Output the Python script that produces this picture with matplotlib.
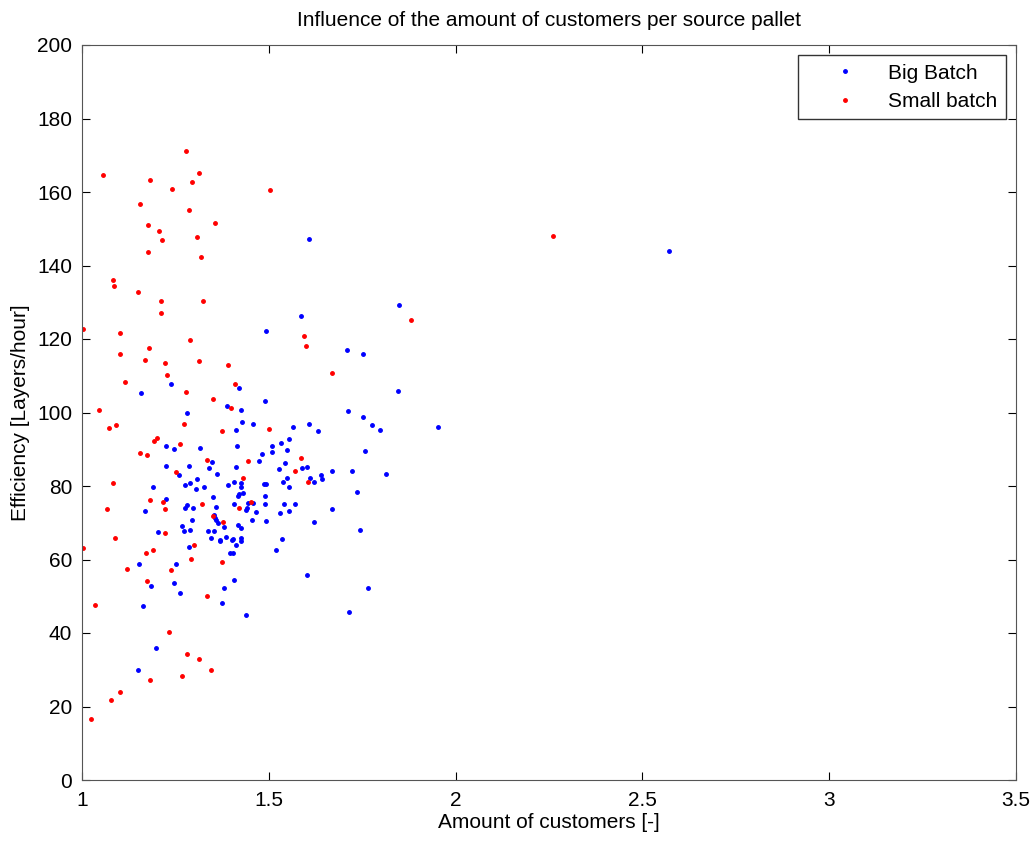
import matplotlib.pyplot as plt
from matplotlib.ticker import FormatStrFormatter, MultipleLocator

plt.rcParams['font.family'] = ['Liberation Sans', 'DejaVu Sans']

# Big Batch (blue)
big_x = [1.493, 1.239, 1.158, 1.421, 1.491, 1.389, 1.426, 1.282, 1.429, 1.459,
         1.413, 1.226, 1.247, 1.317, 1.415, 1.509, 1.509, 1.533, 1.481, 1.475,
         1.349, 1.341, 1.226, 1.287, 1.413, 1.528, 1.260, 1.362, 1.309, 1.276,
         1.290, 1.306, 1.327, 1.392, 1.406, 1.426, 1.425, 1.486, 1.493, 1.190,
         1.420, 1.430, 1.418, 1.351, 1.489, 1.226, 1.445, 1.457, 1.489, 1.280,
         1.276, 1.297, 1.359, 1.406, 1.442, 1.438, 1.169, 1.467, 1.531, 1.353,
         1.355, 1.360, 1.365, 1.294, 1.456, 1.493, 1.418, 1.268, 1.426, 1.379,
         1.290, 1.273, 1.338, 1.352, 1.203, 1.345, 1.385, 1.404, 1.426, 1.369,
         1.287, 1.370, 1.402, 1.426, 1.413, 1.397, 1.405, 1.520, 1.153, 1.252,
         1.247, 1.185, 1.263, 1.408, 1.381, 1.376, 1.163, 1.440, 1.198, 1.150,
         1.607, 1.585, 1.848, 1.708, 1.752, 1.845, 1.713, 1.752, 1.776, 1.797,
         1.953, 1.566, 1.607, 1.631, 1.555, 1.550, 1.757, 1.544, 1.590, 1.603,
         1.668, 1.724, 1.813, 1.550, 1.539, 1.609, 1.640, 1.643, 1.622, 1.555,
         1.735, 1.541, 1.571, 1.555, 1.670, 1.622, 1.745, 1.535, 1.601, 1.765,
         1.714, 2.571]
big_y = [122.1, 107.7, 105.2, 106.6, 103.2, 101.7, 100.8, 100.0, 97.5, 97.0,
         95.3, 90.9, 90.2, 90.4, 90.9, 90.9, 89.3, 91.8, 88.8, 86.8,
         86.6, 84.9, 85.4, 85.4, 85.2, 84.7, 83.1, 83.3, 82.0, 80.4,
         80.8, 79.3, 79.6, 80.4, 81.1, 80.7, 79.6, 80.5, 80.5, 79.8,
         77.9, 78.1, 77.3, 77.1, 77.4, 76.5, 75.5, 75.5, 75.1, 74.7,
         73.9, 74.1, 74.3, 75.1, 74.0, 73.5, 73.2, 72.9, 72.7, 72.2,
         71.2, 70.7, 69.9, 70.7, 70.7, 70.4, 69.5, 69.2, 68.7, 68.8,
         68.0, 67.8, 67.8, 67.8, 67.5, 65.9, 66.1, 65.6, 65.9, 65.4,
         63.4, 65.0, 65.2, 65.0, 63.9, 61.8, 61.9, 62.7, 58.7, 58.9,
         53.5, 52.7, 50.8, 54.3, 52.2, 48.1, 47.3, 44.8, 35.8, 29.8,
         147.2, 126.3, 129.2, 116.9, 115.8, 105.9, 100.5, 98.9, 96.7, 95.3,
         96.1, 96.1, 97.0, 95.1, 92.9, 89.9, 89.6, 86.3, 85.0, 85.3,
         84.2, 84.2, 83.3, 82.3, 81.2, 82.3, 83.1, 82.0, 81.2, 79.8,
         78.4, 75.1, 75.1, 73.2, 73.7, 70.2, 68.0, 65.5, 55.8, 52.2,
         45.6, 143.9]

# Small batch (red)
small_x = [1.279, 1.056, 1.314, 1.182, 1.295, 1.241, 1.502, 1.155, 1.287, 1.357,
           1.177, 1.206, 1.214, 1.308, 1.177, 1.319, 1.083, 1.086, 1.150, 1.211,
           1.325, 1.211, 1.004, 1.102, 1.289, 1.178, 1.102, 1.169, 1.223, 1.314,
           1.392, 1.228, 1.115, 1.410, 1.279, 1.351, 1.400, 1.046, 1.274, 1.072,
           1.091, 1.376, 1.193, 1.201, 1.262, 1.155, 1.175, 1.335, 1.252, 1.083,
           1.182, 1.217, 1.322, 1.066, 1.223, 1.350, 1.377, 1.087, 1.223, 1.501,
           1.445, 1.430, 1.452, 1.421, 1.004, 1.301, 1.172, 1.190, 1.120, 1.293,
           1.376, 1.239, 1.174, 1.335, 1.035, 1.233, 1.282, 1.314, 1.346, 1.268,
           1.182, 1.102, 1.078, 1.024, 1.881, 1.593, 1.600, 1.668, 1.587, 1.571,
           1.606, 2.262]
small_y = [171.2, 164.7, 165.3, 163.4, 162.7, 160.8, 160.5, 156.8, 155.1, 151.6,
           151.0, 149.4, 146.9, 147.8, 143.7, 142.3, 136.1, 134.4, 132.7, 130.3,
           130.3, 127.0, 122.6, 121.5, 119.7, 117.5, 115.8, 114.2, 113.4, 113.9,
           112.8, 110.1, 108.2, 107.7, 105.5, 103.6, 101.3, 100.8, 97.0, 95.9,
           96.7, 94.9, 92.3, 93.1, 91.5, 89.1, 88.4, 87.2, 83.9, 80.8,
           76.2, 75.6, 75.1, 73.7, 73.7, 71.8, 70.2, 65.9, 67.2, 95.6,
           86.9, 82.3, 75.6, 74.1, 63.1, 63.9, 61.7, 62.5, 57.3, 60.1,
           59.2, 57.1, 54.1, 50.0, 47.5, 40.2, 34.2, 32.8, 29.8, 28.4,
           27.1, 24.0, 21.9, 16.7, 125.1, 120.7, 118.0, 110.7, 87.7, 84.2,
           81.1, 148.0]

fig = plt.figure(figsize=(10.36, 8.42), dpi=100)
ax = fig.add_axes([82 / 1036, 62 / 842, 934 / 1036, 735 / 842])

ax.plot(big_x, big_y, '.', color='#0000ff', markersize=5, label='Big Batch')
ax.plot(small_x, small_y, '.', color='#ff0000', markersize=5, label='Small batch')

ax.set_xlim(1, 3.5)
ax.set_ylim(0, 200)
ax.xaxis.set_major_locator(MultipleLocator(0.5))
ax.yaxis.set_major_locator(MultipleLocator(20))
ax.xaxis.set_major_formatter(FormatStrFormatter('%g'))
ax.tick_params(direction='in', length=6, labelsize=15, top=True, right=True)
ax.tick_params(axis='x', pad=8)
ax.tick_params(axis='y', pad=7)
for s in ax.spines.values():
    s.set_color('#555555')

ax.set_xlabel('Amount of customers [-]', fontsize=15, labelpad=2)
ax.set_ylabel('Efficiency [Layers/hour]', fontsize=15, labelpad=5)
ax.set_title('Influence of the amount of customers per source pallet', fontsize=15, pad=14)

leg = ax.legend(loc='upper right', fontsize=15, fancybox=False, edgecolor='#333333',
                framealpha=1, borderaxespad=0.5, handletextpad=0.2, handlelength=3.7,
                borderpad=0.4, labelspacing=0.45)
leg.get_frame().set_linewidth(1.0)

fig.savefig('out.png', dpi=100)
